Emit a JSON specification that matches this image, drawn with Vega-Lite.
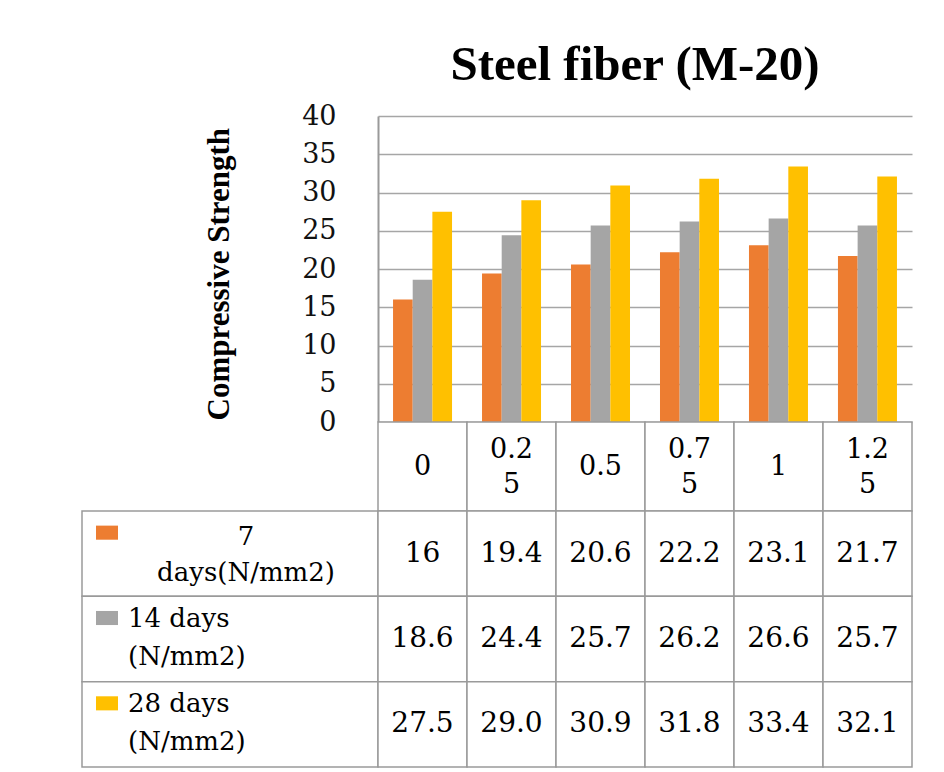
{
  "$schema": "https://vega.github.io/schema/vega-lite/v6.json",
  "padding": {"left": 81, "top": 41, "right": 0, "bottom": 0},
  "background": "white",
  "config": {"view": {"stroke": null}, "font": "DejaVu Serif"},
  "datasets": {
    "strength": [
      {"fiber": "0", "series": "7 days(N/mm2)", "value": 16},
      {"fiber": "0.25", "series": "7 days(N/mm2)", "value": 19.4},
      {"fiber": "0.5", "series": "7 days(N/mm2)", "value": 20.6},
      {"fiber": "0.75", "series": "7 days(N/mm2)", "value": 22.2},
      {"fiber": "1", "series": "7 days(N/mm2)", "value": 23.1},
      {"fiber": "1.25", "series": "7 days(N/mm2)", "value": 21.7},
      {"fiber": "0", "series": "14 days (N/mm2)", "value": 18.6},
      {"fiber": "0.25", "series": "14 days (N/mm2)", "value": 24.4},
      {"fiber": "0.5", "series": "14 days (N/mm2)", "value": 25.7},
      {"fiber": "0.75", "series": "14 days (N/mm2)", "value": 26.2},
      {"fiber": "1", "series": "14 days (N/mm2)", "value": 26.6},
      {"fiber": "1.25", "series": "14 days (N/mm2)", "value": 25.7},
      {"fiber": "0", "series": "28 days (N/mm2)", "value": 27.5},
      {"fiber": "0.25", "series": "28 days (N/mm2)", "value": 29.0},
      {"fiber": "0.5", "series": "28 days (N/mm2)", "value": 30.9},
      {"fiber": "0.75", "series": "28 days (N/mm2)", "value": 31.8},
      {"fiber": "1", "series": "28 days (N/mm2)", "value": 33.4},
      {"fiber": "1.25", "series": "28 days (N/mm2)", "value": 32.1}
    ]
  },
  "columns": 2,
  "spacing": 0,
  "bounds": "flush",
  "concat": [
    {
      "width": 296, "height": 306,
      "data": {"values": [{}]},
      "mark": {"type": "text", "text": ""}
    },
    {
      "width": 534, "height": 306,
      "data": {"name": "strength"},
      "title": {"text": "Steel fiber (M-20)", "font": "Liberation Serif", "fontSize": 49, "fontWeight": "bold", "color": "#000", "offset": 12, "dx": -10},
      "mark": {"type": "bar"},
      "encoding": {
        "x": {"field": "fiber", "type": "nominal", "sort": ["0", "0.25", "0.5", "0.75", "1", "1.25"], "scale": {"paddingInner": 0.337, "paddingOuter": 0.169}, "axis": null},
        "xOffset": {"field": "series", "type": "nominal", "sort": ["7 days(N/mm2)", "14 days (N/mm2)", "28 days (N/mm2)"], "scale": {"paddingInner": 0, "paddingOuter": 0}},
        "y": {"field": "value", "type": "quantitative", "scale": {"domain": [0, 40]},
          "axis": {"values": [0, 5, 10, 15, 20, 25, 30, 35, 40], "title": "Compressive Strength", "titleFont": "Liberation Serif", "titleFontSize": 31, "titleFontWeight": "bold", "titleColor": "#000", "titlePadding": 66, "titleY": 304, "titleAlign": "left", "labelFont": "DejaVu Serif", "labelFontSize": 27, "labelColor": "#111", "labelPadding": 42, "ticks": false, "domainColor": "#9a9a9a", "domainWidth": 2, "gridColor": "#a6a6a6", "gridWidth": 1.5}},
        "color": {"field": "series", "type": "nominal", "scale": {"domain": ["7 days(N/mm2)", "14 days (N/mm2)", "28 days (N/mm2)"], "range": ["#ED7D31", "#A5A5A5", "#FFC000"]}, "legend": null}
      }
    },
    {
      "width": 296, "height": 89,
      "data": {"values": [{}]},
      "mark": {"type": "text", "text": ""}
    },
    {
      "width": 534, "height": 89,
      "data": {"name": "strength"},
      "transform": [
        {"filter": "datum.series === '7 days(N/mm2)'"},
        {"calculate": "length(datum.fiber) > 3 ? [slice(datum.fiber, 0, 3), slice(datum.fiber, 3)] : datum.fiber", "as": "lines"}
      ],
      "encoding": {
        "x": {"field": "fiber", "type": "nominal", "sort": ["0", "0.25", "0.5", "0.75", "1", "1.25"], "scale": {"paddingInner": 0, "paddingOuter": 0}, "axis": null}
      },
      "layer": [
        {"mark": {"type": "rect", "fill": "white", "stroke": "#9a9a9a", "strokeWidth": 1.5}},
        {"transform": [{"filter": "length(datum.fiber) <= 3"}],
          "mark": {"type": "text", "font": "DejaVu Serif", "fontSize": 27, "color": "#000"}, "encoding": {"text": {"field": "lines"}}},
        {"transform": [{"filter": "length(datum.fiber) > 3"}],
          "mark": {"type": "text", "font": "DejaVu Serif", "fontSize": 27, "lineHeight": 35, "dy": -17, "color": "#000"}, "encoding": {"text": {"field": "lines"}}}
      ]
    },
    {
      "width": 296, "height": 256,
      "data": {"name": "strength"},
      "transform": [
        {"filter": "datum.fiber === '0'"},
        {"calculate": "datum.series === '7 days(N/mm2)' ? ['7', 'days(N/mm2)'] : [slice(datum.series, 0, indexof(datum.series, ' (')), slice(datum.series, indexof(datum.series, ' (') + 1)]", "as": "lines"}
      ],
      "encoding": {
        "y": {"field": "series", "type": "nominal", "sort": ["7 days(N/mm2)", "14 days (N/mm2)", "28 days (N/mm2)"], "scale": {"paddingInner": 0, "paddingOuter": 0}, "axis": null}
      },
      "layer": [
        {"mark": {"type": "rect", "fill": "white", "stroke": "#9a9a9a", "strokeWidth": 1.5}},
        {"mark": {"type": "point", "shape": "M-1,-0.64H1V0.64H-1Z", "size": 484, "filled": true, "opacity": 1, "strokeWidth": 0, "xOffset": -123, "yOffset": -21},
          "encoding": {"color": {"field": "series", "type": "nominal", "scale": {"domain": ["7 days(N/mm2)", "14 days (N/mm2)", "28 days (N/mm2)"], "range": ["#ED7D31", "#A5A5A5", "#FFC000"]}, "legend": null}}},
        {"transform": [{"filter": "datum.series === '7 days(N/mm2)'"}],
          "mark": {"type": "text", "align": "center", "dx": 16, "dy": -17, "font": "DejaVu Serif", "fontSize": 26, "lineHeight": 36, "color": "#000"},
          "encoding": {"text": {"field": "lines"}}},
        {"transform": [{"filter": "datum.series !== '7 days(N/mm2)'"}],
          "mark": {"type": "text", "align": "left", "dx": -102, "dy": -20, "font": "DejaVu Serif", "fontSize": 26, "lineHeight": 38, "color": "#000"},
          "encoding": {"text": {"field": "lines"}}}
      ]
    },
    {
      "width": 534, "height": 256,
      "data": {"name": "strength"},
      "transform": [
        {"calculate": "datum.series === '28 days (N/mm2)' ? format(datum.value, '.1f') : toString(datum.value)", "as": "label"}
      ],
      "encoding": {
        "x": {"field": "fiber", "type": "nominal", "sort": ["0", "0.25", "0.5", "0.75", "1", "1.25"], "scale": {"paddingInner": 0, "paddingOuter": 0}, "axis": null},
        "y": {"field": "series", "type": "nominal", "sort": ["7 days(N/mm2)", "14 days (N/mm2)", "28 days (N/mm2)"], "scale": {"paddingInner": 0, "paddingOuter": 0}, "axis": null}
      },
      "layer": [
        {"mark": {"type": "rect", "fill": "white", "stroke": "#9a9a9a", "strokeWidth": 1.5}},
        {"mark": {"type": "text", "font": "DejaVu Serif", "fontSize": 28, "color": "#000"}, "encoding": {"text": {"field": "label"}}}
      ]
    }
  ]
}
